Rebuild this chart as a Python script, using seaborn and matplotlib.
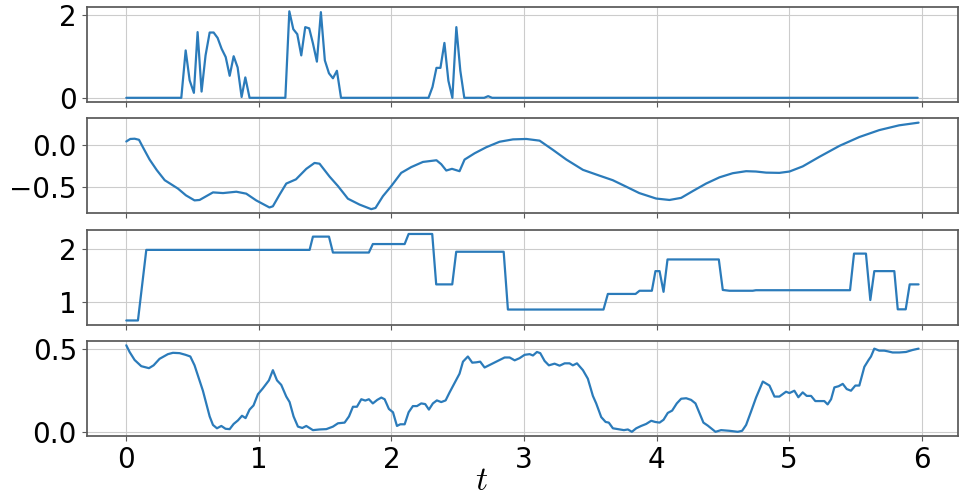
import numpy as np
import pandas as pd
import matplotlib
matplotlib.use("Agg")
import matplotlib.pyplot as plt
import seaborn as sns

# panel 1 - spiky signal
t1 = [0.0, 0.415, 0.448, 0.478, 0.51, 0.538, 0.568, 0.598, 0.629, 0.659, 0.689, 0.719,
      0.75, 0.78, 0.81, 0.84, 0.87, 0.898, 0.93, 1.2, 1.23, 1.26, 1.29, 1.32, 1.35, 1.38,
      1.408, 1.438, 1.468, 1.498, 1.529, 1.559, 1.589, 1.62, 2.28, 2.31, 2.34, 2.37, 2.40,
      2.43, 2.46, 2.49, 2.52, 2.55, 2.70, 2.73, 2.76, 5.97]
v1 = [0.0, 0.0, 1.14, 0.42, 0.12, 1.58, 0.15, 1.02, 1.57, 1.57, 1.44, 1.18,
      0.98, 0.53, 1.0, 0.73, 0.02, 0.49, 0.0, 0.0, 2.08, 1.65, 1.53, 1.02, 1.70, 1.67,
      1.31, 0.87, 2.06, 0.9, 0.59, 0.47, 0.65, 0.0, 0.0, 0.26, 0.72, 0.72, 1.32,
      0.41, 0.0, 1.70, 0.65, 0.0, 0.0, 0.04, 0.0, 0.0]

# panel 2 - smooth signal
t2 = [0.0, 0.03, 0.063, 0.096, 0.126, 0.176, 0.23, 0.29, 0.39, 0.45, 0.515, 0.553, 0.654,
      0.73, 0.83, 0.905, 0.98, 1.08, 1.106, 1.157, 1.207, 1.28, 1.358, 1.42, 1.458, 1.534,
      1.597, 1.672, 1.76, 1.848, 1.88, 1.936, 1.999, 2.074, 2.15, 2.238, 2.34, 2.376, 2.414,
      2.457, 2.514, 2.552, 2.628, 2.716, 2.816, 2.917, 3.018, 3.118, 3.219, 3.32, 3.445,
      3.57, 3.67, 3.77, 3.87, 3.997, 4.098, 4.186, 4.274, 4.374, 4.475, 4.575, 4.676, 4.75,
      4.827, 4.927, 5.003, 5.103, 5.229, 5.38, 5.53, 5.68, 5.83, 5.977]
v2 = [0.04, 0.07, 0.073, 0.06, -0.03, -0.175, -0.30, -0.42, -0.52, -0.60, -0.66, -0.655, -0.565,
      -0.573, -0.557, -0.58, -0.66, -0.744, -0.73, -0.59, -0.46, -0.41, -0.285, -0.215, -0.224, -0.378,
      -0.49, -0.64, -0.71, -0.764, -0.75, -0.61, -0.49, -0.333, -0.264, -0.203, -0.183, -0.23, -0.305,
      -0.285, -0.313, -0.175, -0.10, -0.028, 0.037, 0.065, 0.07, 0.05, -0.06, -0.175, -0.297,
      -0.366, -0.42, -0.496, -0.573, -0.638, -0.655, -0.63, -0.549, -0.46, -0.386, -0.337, -0.313, -0.317,
      -0.33, -0.333, -0.317, -0.256, -0.142, -0.012, 0.093, 0.175, 0.232, 0.264]

# panel 3 - piecewise constant
t3 = [0.0, 0.088, 0.151, 1.383, 1.408, 1.529, 1.559, 1.83, 1.86, 2.10, 2.13, 2.308, 2.338,
      2.459, 2.489, 2.847, 2.879, 3.6, 3.633, 3.842, 3.872, 3.965, 3.992, 4.023, 4.053, 4.083,
      4.47, 4.5, 4.55, 4.726, 4.75, 5.46, 5.49, 5.58, 5.613, 5.643, 5.794, 5.82, 5.88, 5.91, 5.977]
v3 = [0.66, 0.66, 1.99, 1.99, 2.24, 2.24, 1.94, 1.94, 2.10, 2.10, 2.29, 2.29, 1.34,
      1.34, 1.955, 1.955, 0.866, 0.866, 1.16, 1.16, 1.22, 1.22, 1.59, 1.59, 1.20, 1.81,
      1.81, 1.235, 1.22, 1.22, 1.23, 1.23, 1.92, 1.92, 1.045, 1.59, 1.59, 0.87, 0.87, 1.34, 1.34]

# panel 4 - noisy signal
t4 = [0.0, 0.025, 0.063, 0.113, 0.171, 0.206, 0.251, 0.314, 0.352, 0.402, 0.447, 0.483, 0.515,
      0.578, 0.629, 0.654, 0.684, 0.717, 0.749, 0.78, 0.81, 0.842, 0.873, 0.9, 0.93, 0.96,
      0.993, 1.03, 1.076, 1.106, 1.137, 1.169, 1.207, 1.232, 1.262, 1.295, 1.328, 1.358, 1.408,
      1.458, 1.509, 1.559, 1.597, 1.647, 1.68, 1.71, 1.74, 1.773, 1.803, 1.83, 1.86, 1.893,
      1.924, 1.949, 1.981, 2.012, 2.042, 2.067, 2.10, 2.13, 2.162, 2.193, 2.225, 2.255, 2.283,
      2.313, 2.343, 2.376, 2.409, 2.439, 2.477, 2.514, 2.54, 2.577, 2.61, 2.64, 2.67, 2.703,
      2.766, 2.817, 2.854, 2.892, 2.93, 2.967, 3.005, 3.043, 3.068, 3.098, 3.123, 3.156, 3.188,
      3.231, 3.269, 3.307, 3.344, 3.369, 3.40, 3.445, 3.482, 3.52, 3.545, 3.583, 3.616, 3.64,
      3.671, 3.721, 3.754, 3.784, 3.814, 3.847, 3.884, 3.922, 3.96, 3.99, 4.023, 4.053, 4.085,
      4.118, 4.153, 4.186, 4.224, 4.261, 4.294, 4.324, 4.354, 4.387, 4.445, 4.487, 4.55, 4.613,
      4.646, 4.676, 4.714, 4.751, 4.802, 4.852, 4.89, 4.927, 4.977, 5.003, 5.04, 5.07, 5.103,
      5.133, 5.166, 5.198, 5.234, 5.266, 5.291, 5.317, 5.342, 5.374, 5.405, 5.435, 5.467, 5.50,
      5.53, 5.568, 5.6, 5.618, 5.643, 5.68, 5.718, 5.744, 5.781, 5.832, 5.882, 5.932, 5.977]
v4 = [0.52, 0.48, 0.432, 0.395, 0.383, 0.40, 0.439, 0.467, 0.475, 0.473, 0.463, 0.453, 0.40,
      0.248, 0.094, 0.043, 0.023, 0.037, 0.02, 0.018, 0.049, 0.07, 0.098, 0.084, 0.135, 0.16,
      0.227, 0.262, 0.31, 0.371, 0.31, 0.283, 0.213, 0.18, 0.094, 0.033, 0.025, 0.037, 0.012,
      0.016, 0.018, 0.033, 0.053, 0.057, 0.094, 0.152, 0.152, 0.197, 0.189, 0.197, 0.172, 0.193,
      0.207, 0.197, 0.139, 0.119, 0.037, 0.047, 0.047, 0.119, 0.156, 0.156, 0.172, 0.168, 0.135,
      0.172, 0.19, 0.18, 0.19, 0.238, 0.295, 0.35, 0.422, 0.453, 0.416, 0.418, 0.422, 0.387,
      0.412, 0.432, 0.447, 0.447, 0.43, 0.443, 0.463, 0.467, 0.459, 0.48, 0.473, 0.426, 0.40,
      0.41, 0.398, 0.412, 0.412, 0.40, 0.412, 0.371, 0.32, 0.217, 0.172, 0.09, 0.061, 0.057,
      0.023, 0.016, 0.012, 0.016, 0.002, 0.023, 0.037, 0.049, 0.068, 0.061, 0.057, 0.074, 0.115,
      0.129, 0.172, 0.20, 0.203, 0.193, 0.172, 0.115, 0.057, 0.039, 0.002, 0.012, 0.008, 0.002,
      0.008, 0.043, 0.125, 0.207, 0.303, 0.279, 0.213, 0.213, 0.242, 0.234, 0.248, 0.209, 0.238,
      0.217, 0.217, 0.186, 0.186, 0.186, 0.166, 0.197, 0.268, 0.275, 0.289, 0.258, 0.248, 0.279,
      0.279, 0.391, 0.432, 0.453, 0.50, 0.488, 0.488, 0.484, 0.477, 0.477, 0.48, 0.492, 0.50]

series = [(t1, v1), (t2, v2), (t3, v3), (t4, v4)]
yticks = [[0, 2], [-0.5, 0.0], [1, 2], [0.0, 0.5]]
xticks = [0, 1, 2, 3, 4, 5, 6]

sns.set_theme(style="ticks", rc={"axes.edgecolor": "0.35", "grid.color": "#cccccc",
                                 "grid.linewidth": 0.8, "text.color": "black",
                                 "xtick.color": "0.35", "ytick.color": "0.35",
                                 "xtick.labelcolor": "black", "ytick.labelcolor": "black"})
plt.rcParams['font.family'] = ['DejaVu Sans']

fig, axes = plt.subplots(4, 1, figsize=(9.63, 4.99), dpi=100, sharex=True)
fig.subplots_adjust(left=0.090, right=0.995, top=0.986, bottom=0.126, hspace=0.17)

for ax, (t, v), yt in zip(axes, series, yticks):
    df = pd.DataFrame({"t": t, "v": v})
    sns.lineplot(data=df, x="t", y="v", ax=ax, color="#2b7bba", linewidth=1.6,
                 estimator=None, sort=False)
    ax.set_yticks(yt)
    ax.set_xticks(xticks)
    ax.grid(True)
    ax.set_xlabel("")
    ax.set_ylabel("")
    ax.tick_params(labelsize=20, length=3.5, width=0.8)

fig.supxlabel(r"$t$", fontsize=24, math_fontfamily="cm", y=0.005, va="bottom")

fig.savefig("out.png", dpi=100)
